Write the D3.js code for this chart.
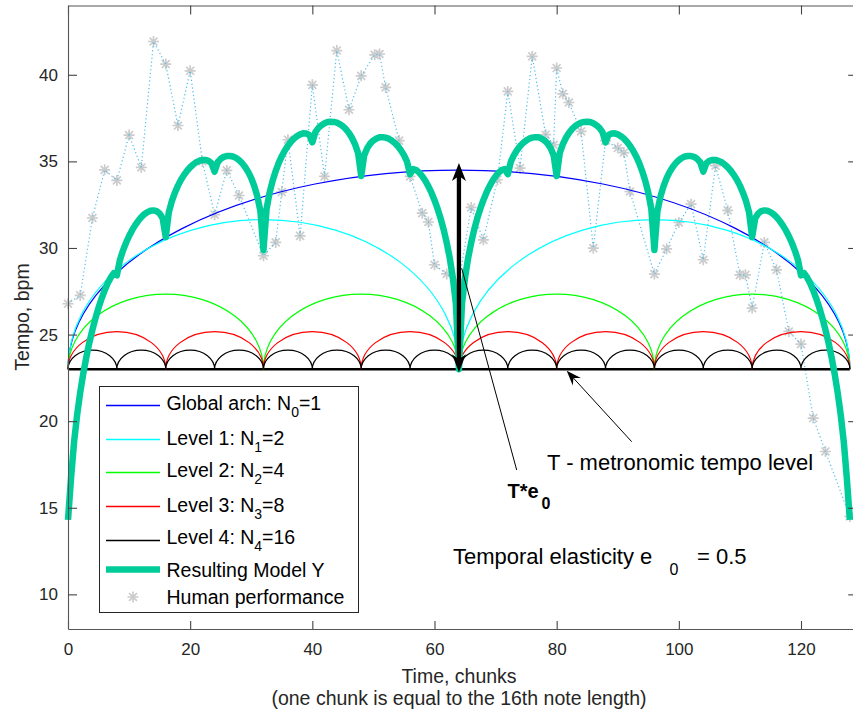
<!DOCTYPE html>
<html><head><meta charset="utf-8">
<script src="https://cdn.jsdelivr.net/npm/d3@7"></script>
<style>body{margin:0;background:#fff} svg{display:block} text{font-family:"Liberation Sans",Arial,Helvetica,sans-serif}</style>
</head><body><svg id="c" width="853" height="715"></svg>
<script>
// ---------- data ----------
const xTicks=[0,20,40,60,80,100,120];
const yTicks=[10,15,20,25,30,35,40];
const tempoT=23;                       // metronomic tempo level T
const arrowVals=[23,34.5];             // T .. T*(1+e0)
const levelLabel=["Global arch: N","Level 1: N","Level 2: N","Level 3: N","Level 4: N"];
const levelSub=["0","1","2","3","4"];
const levelN=[1,2,4,8,16];             // number of arches per level
const levelPeak=[34.5,31.64,27.34,25.17,24.1];  // arch peak tempo per level
const humanX=[0,2,4,6,8,10,12,14,16,18,20,22,24,26,28,32,34,35,36,38,40,42,44,46,48,50.2,51,52,54.2,56,58,59,60,62,64,66,68,70.3,72,74,76,78.2,79.5,80,81,82,84,86,88,90,91,92,96,98,100,102,104,106,108,110,110.9,112,114,116,118,120,122,124,128];
const humanY=[26.78,27.26,31.73,34.51,33.9,36.52,34.65,41.92,40.62,37.07,40.23,35.0,31.92,34.48,33.03,29.55,30.32,33.23,36.25,30.7,39.42,34.13,41.4,37.98,39.94,41.15,41.2,39.27,36.2,34.13,32.01,31.5,29.03,28.5,28.0,32.34,30.47,33.94,39.04,34.61,41.06,36.54,35.96,40.39,38.9,38.4,36.73,29.99,36.2,35.77,35.51,33.26,28.49,29.95,31.47,32.53,29.32,34.75,32.17,28.45,28.45,26.53,30.32,28.74,25.18,24.45,20.18,18.25,14.5];
// Resulting model Y, read every half chunk from 0 to 128
const modelY=[
14.30,16.72,18.82,20.38,21.66,22.75,23.70,24.54,25.28,25.95,26.55,27.08,27.55,27.96,28.30,28.54,
28.42,29.31,29.85,30.30,30.69,31.03,31.32,31.57,31.78,31.95,32.07,32.15,32.17,32.13,31.99,31.71,
30.63,32.06,32.70,33.19,33.60,33.94,34.22,34.46,34.66,34.82,34.95,35.03,35.08,35.08,35.03,34.89,
34.41,34.95,35.15,35.26,35.31,35.31,35.28,35.20,35.07,34.90,34.67,34.39,34.03,33.57,32.98,32.13,
29.88,32.24,33.19,33.88,34.44,34.91,35.30,35.63,35.90,36.13,36.32,36.46,36.56,36.62,36.61,36.53,
36.10,36.69,36.93,37.09,37.20,37.27,37.29,37.28,37.24,37.15,37.03,36.86,36.64,36.35,35.98,35.47,
34.16,35.36,35.77,36.04,36.21,36.32,36.39,36.40,36.37,36.31,36.20,36.06,35.88,35.64,35.36,34.98,
34.26,34.56,34.50,34.35,34.14,33.88,33.56,33.19,32.76,32.27,31.71,31.06,30.30,29.41,28.29,26.79,
23.00,26.79,28.29,29.41,30.30,31.06,31.71,32.27,32.76,33.19,33.56,33.88,34.14,34.35,34.50,34.56,
34.26,34.98,35.36,35.64,35.88,36.06,36.20,36.31,36.37,36.40,36.39,36.32,36.21,36.04,35.77,35.36,
34.16,35.47,35.98,36.35,36.64,36.86,37.03,37.15,37.24,37.28,37.29,37.27,37.20,37.09,36.93,36.69,
36.10,36.53,36.61,36.62,36.56,36.46,36.32,36.13,35.90,35.63,35.30,34.91,34.44,33.88,33.19,32.24,
29.88,32.13,32.98,33.57,34.03,34.39,34.67,34.90,35.07,35.20,35.28,35.31,35.31,35.26,35.15,34.95,
34.41,34.89,35.03,35.08,35.08,35.03,34.95,34.82,34.66,34.46,34.22,33.94,33.60,33.19,32.70,32.06,
30.63,31.71,31.99,32.13,32.17,32.15,32.07,31.95,31.78,31.57,31.32,31.03,30.69,30.30,29.85,29.31,
28.42,28.54,28.30,27.96,27.55,27.08,26.55,25.95,25.28,24.54,23.70,22.75,21.66,20.38,18.82,16.72,
14.30];
const modelX=modelY.map((v,i)=>i*0.5);

// ---------- style ----------
const colors=["#0000ff","#00ffff","#00ff00","#ff0000","#000000"];
const modelColor="#00cc99", humanColor="#cccccc", dotColor="#4dbeee", axisColor="#262626";
const svg=d3.select("#c");
const x=d3.scaleLinear().domain([0,129.2]).range([68,857.2]);
const y=d3.scaleLinear().domain([8,44]).range([629,5.5]);

function star(g,cx,cy,r){const d=r*0.72;g.append("path").attr("d",`M${cx-r},${cy}L${cx+r},${cy}M${cx},${cy-r}L${cx},${cy+r}M${cx-d},${cy-d}L${cx+d},${cy+d}M${cx-d},${cy+d}L${cx+d},${cy-d}`).attr("stroke",humanColor).attr("stroke-width",1.7).attr("fill","none");}

// human performance
const hg=svg.append("g");
humanX.forEach((v,i)=>star(hg,x(v),y(humanY[i]),5.5));
hg.append("path").attr("d",d3.line().x((d,i)=>x(humanX[i])).y((d,i)=>y(humanY[i]))(humanX)).attr("fill","none").attr("stroke",dotColor).attr("stroke-width",1.2).attr("stroke-dasharray","1.2,2.6");
// metronomic baseline
svg.append("line").attr("x1",x(0)).attr("x2",x(128)).attr("y1",y(tempoT)).attr("y2",y(tempoT)).attr("stroke","#000").attr("stroke-width",2.6);
// level arches (elliptic arcs between T and each level's peak)
levelN.forEach((N,k)=>{const w=128/N;let p="";for(let i=0;i<N;i++){const a=x(i*w),b=x((i+1)*w);const rx=(b-a)/2,ry=y(tempoT)-y(levelPeak[k]);p+=`M${a},${y(tempoT)}A${rx},${ry} 0 0 1 ${b},${y(tempoT)}`;}
 svg.append("path").attr("d",p).attr("fill","none").attr("stroke",colors[k]).attr("stroke-width",1.2);});
// resulting model
svg.append("path").attr("d",d3.line().x((d,i)=>x(modelX[i])).y((d,i)=>y(modelY[i]))(modelX)).attr("fill","none").attr("stroke",modelColor).attr("stroke-width",6.5).attr("stroke-linejoin","round");
// double arrow T*e0
const ax=x(64), yTop=y(arrowVals[1])-7, yBot=y(arrowVals[0])+3;
svg.append("line").attr("x1",ax).attr("x2",ax).attr("y1",yTop+12).attr("y2",yBot-12).attr("stroke","#000").attr("stroke-width",4.3);
svg.append("path").attr("d",`M${ax},${yTop}L${ax-7},${yTop+18}L${ax},${yTop+13}L${ax+7},${yTop+18}Z`).attr("fill","#000");
svg.append("path").attr("d",`M${ax},${yBot}L${ax-7},${yBot-18}L${ax},${yBot-13}L${ax+7},${yBot-18}Z`).attr("fill","#000");
// annotations
svg.append("line").attr("x1",516.7).attr("y1",470).attr("x2",461.7).attr("y2",268.3).attr("stroke","#000").attr("stroke-width",1);
svg.append("line").attr("x1",631.7).attr("y1",441.7).attr("x2",572).attr("y2",376.5).attr("stroke","#000").attr("stroke-width",1);
(function(){const tx=566.7,ty=370.7,ang=Math.atan2(441.7-370.7,631.7-566.7);const L=15,Wd=5.5,bk=10;const c=Math.cos(ang),s=Math.sin(ang);
 const p=(a,b)=>[tx+a*c-b*s,ty+a*s+b*c];const P=[p(0,0),p(L,-Wd),p(bk,0),p(L,Wd)];
 svg.append("path").attr("d","M"+P.map(q=>q.join(",")).join("L")+"Z").attr("fill","#000");})();
svg.append("text").attr("x",547).attr("y",470).attr("font-size",22).text("T - metronomic tempo level");
svg.append("text").attr("x",507.5).attr("y",498).attr("font-size",20).attr("font-weight","bold").text("T*e");
svg.append("text").attr("x",541.5).attr("y",509).attr("font-size",16).attr("font-weight","bold").text("0");
svg.append("text").attr("x",453).attr("y",564).attr("font-size",22).text("Temporal elasticity e");
svg.append("text").attr("x",669.5).attr("y",575).attr("font-size",16).text("0");
svg.append("text").attr("x",697).attr("y",564).attr("font-size",22).text("= 0.5");

// axes
const ag=svg.append("g").attr("color",axisColor);
ag.append("g").attr("transform","translate(0,629)").call(d3.axisBottom(x).tickValues(xTicks).tickSizeInner(-8).tickSizeOuter(0).tickPadding(14));
ag.append("g").attr("transform","translate(0,5.5)").call(d3.axisTop(x).tickValues(xTicks).tickSizeInner(-9).tickSizeOuter(0).tickFormat(""));
ag.append("g").attr("transform","translate(68,0)").call(d3.axisLeft(y).tickValues(yTicks).tickSizeInner(-9).tickSizeOuter(0).tickPadding(10));
ag.append("g").attr("transform","translate(857.2,0)").call(d3.axisRight(y).tickValues(yTicks).tickSizeInner(-9).tickSizeOuter(0).tickFormat(""));
ag.selectAll("text").attr("font-size",17).attr("font-family",'"Liberation Sans",Arial,sans-serif').attr("fill",axisColor);
ag.selectAll("path.domain").attr("stroke","#555").attr("stroke-width",1.1);
ag.selectAll(".tick line").attr("stroke","#444").attr("stroke-width",1.1);
svg.append("text").attr("x",459).attr("y",683).attr("text-anchor","middle").attr("font-size",19.5).attr("fill",axisColor).text("Time, chunks");
svg.append("text").attr("x",459).attr("y",705).attr("text-anchor","middle").attr("font-size",19.5).attr("fill",axisColor).text("(one chunk is equal to the 16th note length)");
svg.append("text").attr("transform","translate(29,317) rotate(-90)").attr("text-anchor","middle").attr("font-size",19.5).attr("fill",axisColor).text("Tempo, bpm");

// legend
const lg=svg.append("g");
lg.append("rect").attr("x",99.5).attr("y",386.5).attr("width",259).attr("height",226).attr("fill","#fff").attr("stroke",axisColor).attr("stroke-width",1);
const base=[410,445,477,512,544,577,604];
const lineY=[405.5,439.5,472.5,506.5,540.5,569.5,597];
levelN.forEach((N,k)=>{lg.append("line").attr("x1",106).attr("x2",160).attr("y1",lineY[k]).attr("y2",lineY[k]).attr("stroke",colors[k]).attr("stroke-width",1.3);
 const t=lg.append("text").attr("x",166.5).attr("y",base[k]).attr("font-size",19.5);
 t.append("tspan").text(levelLabel[k]);t.append("tspan").attr("dy",7).attr("font-size",14).text(levelSub[k]);t.append("tspan").attr("dy",-7).text("="+N);});
lg.append("line").attr("x1",106).attr("x2",160).attr("y1",lineY[5]).attr("y2",lineY[5]).attr("stroke",modelColor).attr("stroke-width",6.5);
lg.append("text").attr("x",166.5).attr("y",base[5]).attr("font-size",19.5).text("Resulting Model Y");
star(lg,133,lineY[6],5.5);
lg.append("text").attr("x",166.5).attr("y",base[6]).attr("font-size",19.5).text("Human performance");
</script></body></html>
